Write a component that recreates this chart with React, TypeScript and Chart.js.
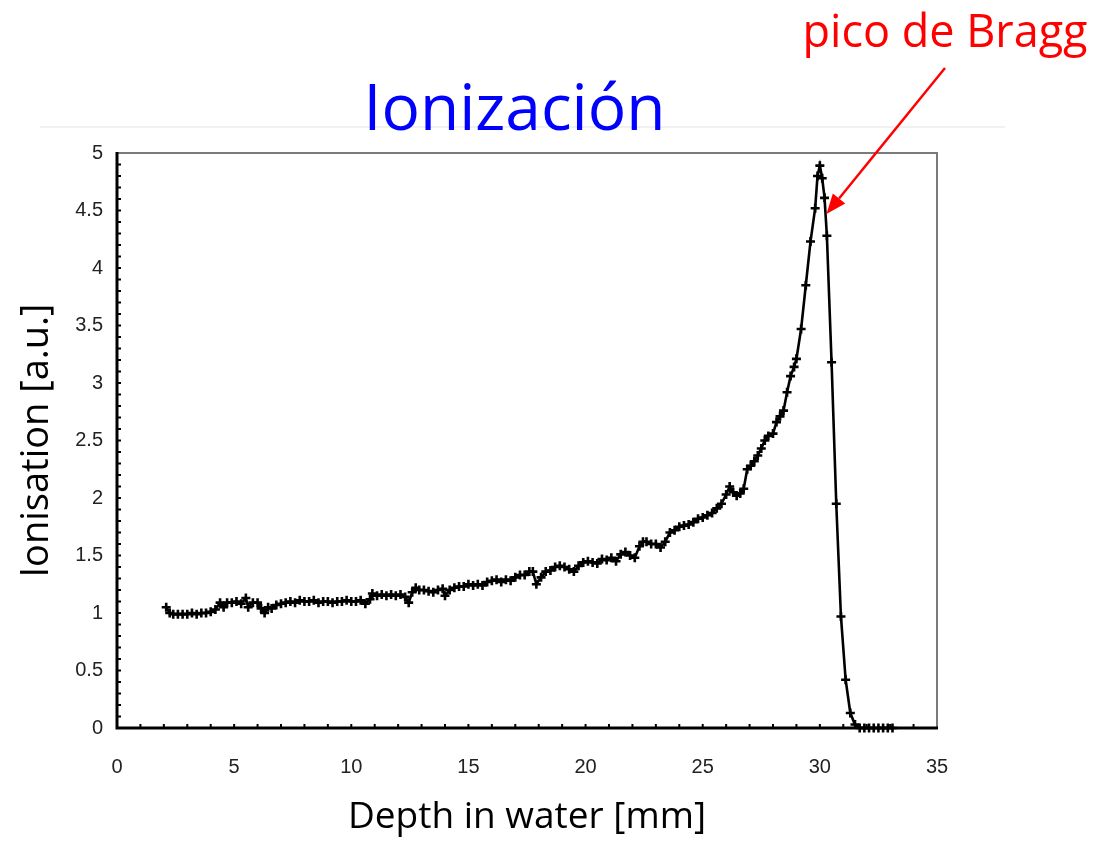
import React, { useEffect, useRef } from "react";
import { Chart, registerables } from "chart.js";

Chart.register(...registerables);

// Depth in water [mm]
const depthMm: number[] = [
  2.1, 2.25, 2.4, 2.6, 2.8, 3.0, 3.2, 3.4, 3.6, 3.8, 4.0, 4.2, 4.4, 4.55, 4.7, 4.9,
  5.1, 5.3, 5.5, 5.6, 5.8, 6.0, 6.15, 6.3, 6.45, 6.6, 6.8, 7.0, 7.2, 7.4, 7.6, 7.8,
  8.0, 8.2, 8.4, 8.6, 8.8, 9.0, 9.2, 9.4, 9.6, 9.8, 10.0, 10.2, 10.4, 10.6, 10.8, 10.9,
  11.1, 11.3, 11.5, 11.7, 11.9, 12.1, 12.3, 12.45, 12.6, 12.75, 12.9, 13.1, 13.3, 13.5,
  13.7, 13.9, 14.0, 14.2, 14.4, 14.6, 14.8, 15.0, 15.2, 15.4, 15.6, 15.8, 16.0, 16.2,
  16.4, 16.6, 16.8, 17.0, 17.2, 17.4, 17.6, 17.75, 17.9, 18.1, 18.3, 18.5, 18.7, 18.9,
  19.1, 19.3, 19.5, 19.7, 19.9, 20.1, 20.3, 20.5, 20.7, 20.9, 21.1, 21.3, 21.5, 21.7,
  21.9, 22.1, 22.3, 22.45, 22.6, 22.8, 23.0, 23.2, 23.4, 23.6, 23.8, 24.0, 24.2, 24.4,
  24.6, 24.8, 25.0, 25.2, 25.4, 25.6, 25.8, 26.0, 26.15, 26.3, 26.45, 26.6, 26.75, 26.9,
  27.05, 27.2, 27.35, 27.5, 27.65, 27.8, 28.0, 28.15, 28.3, 28.45, 28.6, 28.75, 28.9,
  29.0, 29.2, 29.4, 29.6, 29.8, 29.9, 30.0, 30.1, 30.2, 30.3, 30.5, 30.7, 30.9, 31.1,
  31.3, 31.5, 31.7, 31.9, 32.1, 32.3, 32.5, 32.7, 32.9, 33.1,
];

// Ionisation [a.u.]
const ionisation: number[] = [
  1.05, 1.0, 0.99, 0.99, 0.99, 0.99, 1.0, 0.99, 1.0, 1.0, 1.01, 1.03, 1.09, 1.05, 1.09, 1.09,
  1.1, 1.08, 1.13, 1.05, 1.09, 1.09, 1.04, 1.0, 1.05, 1.04, 1.07, 1.08, 1.09, 1.1, 1.09, 1.11,
  1.1, 1.1, 1.11, 1.09, 1.1, 1.1, 1.09, 1.1, 1.1, 1.11, 1.1, 1.1, 1.11, 1.08, 1.12, 1.17,
  1.15, 1.16, 1.15, 1.16, 1.15, 1.16, 1.14, 1.09, 1.18, 1.22, 1.2, 1.2, 1.19, 1.18,
  1.2, 1.21, 1.15, 1.2, 1.22, 1.23, 1.23, 1.25, 1.24, 1.25, 1.24, 1.27, 1.28, 1.29,
  1.27, 1.29, 1.28, 1.31, 1.33, 1.33, 1.36, 1.36, 1.25, 1.31, 1.36, 1.37, 1.4, 1.41,
  1.4, 1.38, 1.36, 1.41, 1.44, 1.45, 1.44, 1.43, 1.47, 1.46, 1.48, 1.45, 1.51, 1.53,
  1.5, 1.48, 1.58, 1.62, 1.62, 1.6, 1.6, 1.57, 1.62, 1.7, 1.72, 1.75, 1.76, 1.77,
  1.79, 1.82, 1.83, 1.85, 1.87, 1.91, 1.95, 2.03, 2.1, 2.05, 2.02, 2.04, 2.08, 2.25,
  2.28, 2.32, 2.37, 2.43, 2.5, 2.54, 2.56, 2.66, 2.71, 2.76, 2.92, 3.06, 3.14,
  3.21, 3.47, 3.85, 4.23, 4.52, 4.8, 4.89, 4.78, 4.61, 4.28, 3.18, 1.95, 0.97, 0.42,
  0.13, 0.03, 0.0, 0.0, 0.0, 0.0, 0.0, 0.0, 0.0, 0.0,
];

const xTickValues: number[] = [0, 5, 10, 15, 20, 25, 30, 35];
const yTickValues: number[] = [0, 0.5, 1, 1.5, 2, 2.5, 3, 3.5, 4, 4.5, 5];

const chartTitle = "Ionización";
const xTitle = "Depth in water [mm]";
const yTitle = "Ionisation [a.u.]";
const peakLabel = "pico de Bragg";
// point (in data units) that the red arrow points at
const arrowTipDepth = 30.28;
const arrowTipValue = 4.47;

const SANS = "'Open Sans', 'Noto Sans', sans-serif";
const TICK_FONT = "'Liberation Sans Narrow', 'Liberation Sans', sans-serif";

const pageRulePlugin = {
  id: "pageRule",
  beforeDraw(chart: any) {
    const { ctx } = chart;
    ctx.save();
    ctx.strokeStyle = "#ececec";
    ctx.lineWidth = 1.5;
    ctx.beginPath();
    ctx.moveTo(40, 127);
    ctx.lineTo(1005, 127);
    ctx.stroke();
    ctx.restore();
  },
};

const framePlugin = {
  id: "frame",
  beforeDatasetsDraw(chart: any) {
    const { ctx, chartArea } = chart;
    const { left, right, top, bottom } = chartArea;
    const xs = chart.scales.x;
    const ys = chart.scales.y;
    ctx.save();
    // gray top/right border
    ctx.strokeStyle = "#7a7a7a";
    ctx.lineWidth = 2;
    ctx.beginPath();
    ctx.moveTo(left, top);
    ctx.lineTo(right, top);
    ctx.lineTo(right, bottom);
    ctx.stroke();
    // black left/bottom axes
    ctx.strokeStyle = "#000";
    ctx.lineWidth = 3;
    ctx.beginPath();
    ctx.moveTo(left, top - 1);
    ctx.lineTo(left, bottom);
    ctx.lineTo(right + 1, bottom);
    ctx.stroke();
    // inward minor ticks
    ctx.lineWidth = 2;
    ctx.beginPath();
    for (let i = 1; i < 50; i++) {
      const y = ys.getPixelForValue(i / 10);
      ctx.moveTo(left, y);
      ctx.lineTo(left + 4, y);
    }
    for (let i = 1; i < 35; i++) {
      const x = xs.getPixelForValue(i);
      ctx.moveTo(x, bottom);
      ctx.lineTo(x, bottom - 4);
    }
    ctx.stroke();
    ctx.restore();
  },
};

const annotationPlugin = {
  id: "braggAnnotation",
  afterDraw(chart: any) {
    const { ctx } = chart;
    const xs = chart.scales.x;
    const ys = chart.scales.y;
    ctx.save();
    ctx.fillStyle = "#ff0000";
    ctx.font = `45px ${SANS}`;
    ctx.textAlign = "center";
    ctx.textBaseline = "alphabetic";
    ctx.fillText(peakLabel, 945, 47);

    const x0 = 945;
    const y0 = 68;
    const x1 = xs.getPixelForValue(arrowTipDepth);
    const y1 = ys.getPixelForValue(arrowTipValue);
    const ang = Math.atan2(y1 - y0, x1 - x0);
    const headLen = 20;
    const headW = 8;
    const bx = x1 - headLen * Math.cos(ang);
    const by = y1 - headLen * Math.sin(ang);
    ctx.strokeStyle = "#ff0000";
    ctx.lineWidth = 2.5;
    ctx.beginPath();
    ctx.moveTo(x0, y0);
    ctx.lineTo(bx, by);
    ctx.stroke();
    ctx.beginPath();
    ctx.moveTo(x1, y1);
    ctx.lineTo(bx + headW * Math.sin(ang), by - headW * Math.cos(ang));
    ctx.lineTo(bx - headW * Math.sin(ang), by + headW * Math.cos(ang));
    ctx.closePath();
    ctx.fill();
    ctx.restore();
  },
};

export default function App() {
  const canvasRef = useRef<HTMLCanvasElement | null>(null);

  useEffect(() => {
    const canvas = canvasRef.current;
    if (!canvas) return;
    const points = depthMm.map((d, i) => ({ x: d, y: ionisation[i] }));
    const tickFont = { family: TICK_FONT, size: 20 };
    const chart = new Chart(canvas, {
      type: "scatter",
      data: {
        datasets: [
          {
            data: points,
            showLine: true,
            borderColor: "#000",
            borderWidth: 2.6,
            pointStyle: "cross",
            pointRadius: 4.5,
            pointBorderWidth: 2.6,
            pointBorderColor: "#000",
            pointBackgroundColor: "#000",
            tension: 0,
            clip: false,
          } as any,
        ],
      },
      options: {
        responsive: false,
        animation: false,
        events: [],
        layout: { padding: { left: 0, right: 70, top: 0, bottom: 0 } },
        plugins: {
          legend: { display: false },
          tooltip: { enabled: false },
          title: {
            display: true,
            text: chartTitle,
            color: "#0000ff",
            font: { family: SANS, size: 64, weight: "normal" as any },
            padding: { top: 73, bottom: 3.2 },
          },
        },
        scales: {
          x: {
            type: "linear",
            min: 0,
            max: 35,
            afterBuildTicks: (s: any) => {
              s.ticks = xTickValues.map((v) => ({ value: v }));
            },
            ticks: {
              color: "#222",
              font: tickFont,
              padding: 27,
              maxRotation: 0,
              callback: (v: any) => String(v),
            },
            grid: { display: false, drawTicks: false },
            border: { display: false },
            title: {
              display: true,
              text: xTitle,
              color: "#000",
              font: { family: SANS, size: 37 },
              padding: { top: 0, bottom: 1 },
            },
            afterFit: (s: any) => {
              s.height = 113;
            },
          },
          y: {
            type: "linear",
            min: 0,
            max: 5,
            afterBuildTicks: (s: any) => {
              s.ticks = yTickValues.map((v) => ({ value: v }));
            },
            ticks: {
              color: "#222",
              font: tickFont,
              padding: 14,
              callback: (v: any) => String(v),
            },
            grid: { display: false, drawTicks: false },
            border: { display: false },
            title: {
              display: true,
              text: yTitle,
              color: "#000",
              font: { family: SANS, size: 38 },
              padding: { top: 14, bottom: 0 },
            },
            afterFit: (s: any) => {
              s.width = 117;
            },
          },
          y2: {
            type: "linear",
            position: "right",
            display: true,
            ticks: { display: false },
            grid: { display: false, drawTicks: false },
            border: { display: false },
            afterFit: (s: any) => {
              s.width = 92;
            },
          },
        },
      } as any,
      plugins: [pageRulePlugin, framePlugin, annotationPlugin],
    });
    return () => chart.destroy();
  }, []);

  return (
    <div
      style={{
        position: "fixed",
        left: 0,
        top: 0,
        width: 1099,
        height: 841,
        background: "#fff",
      }}
    >
      <canvas ref={canvasRef} width={1099} height={841} />
    </div>
  );
}
